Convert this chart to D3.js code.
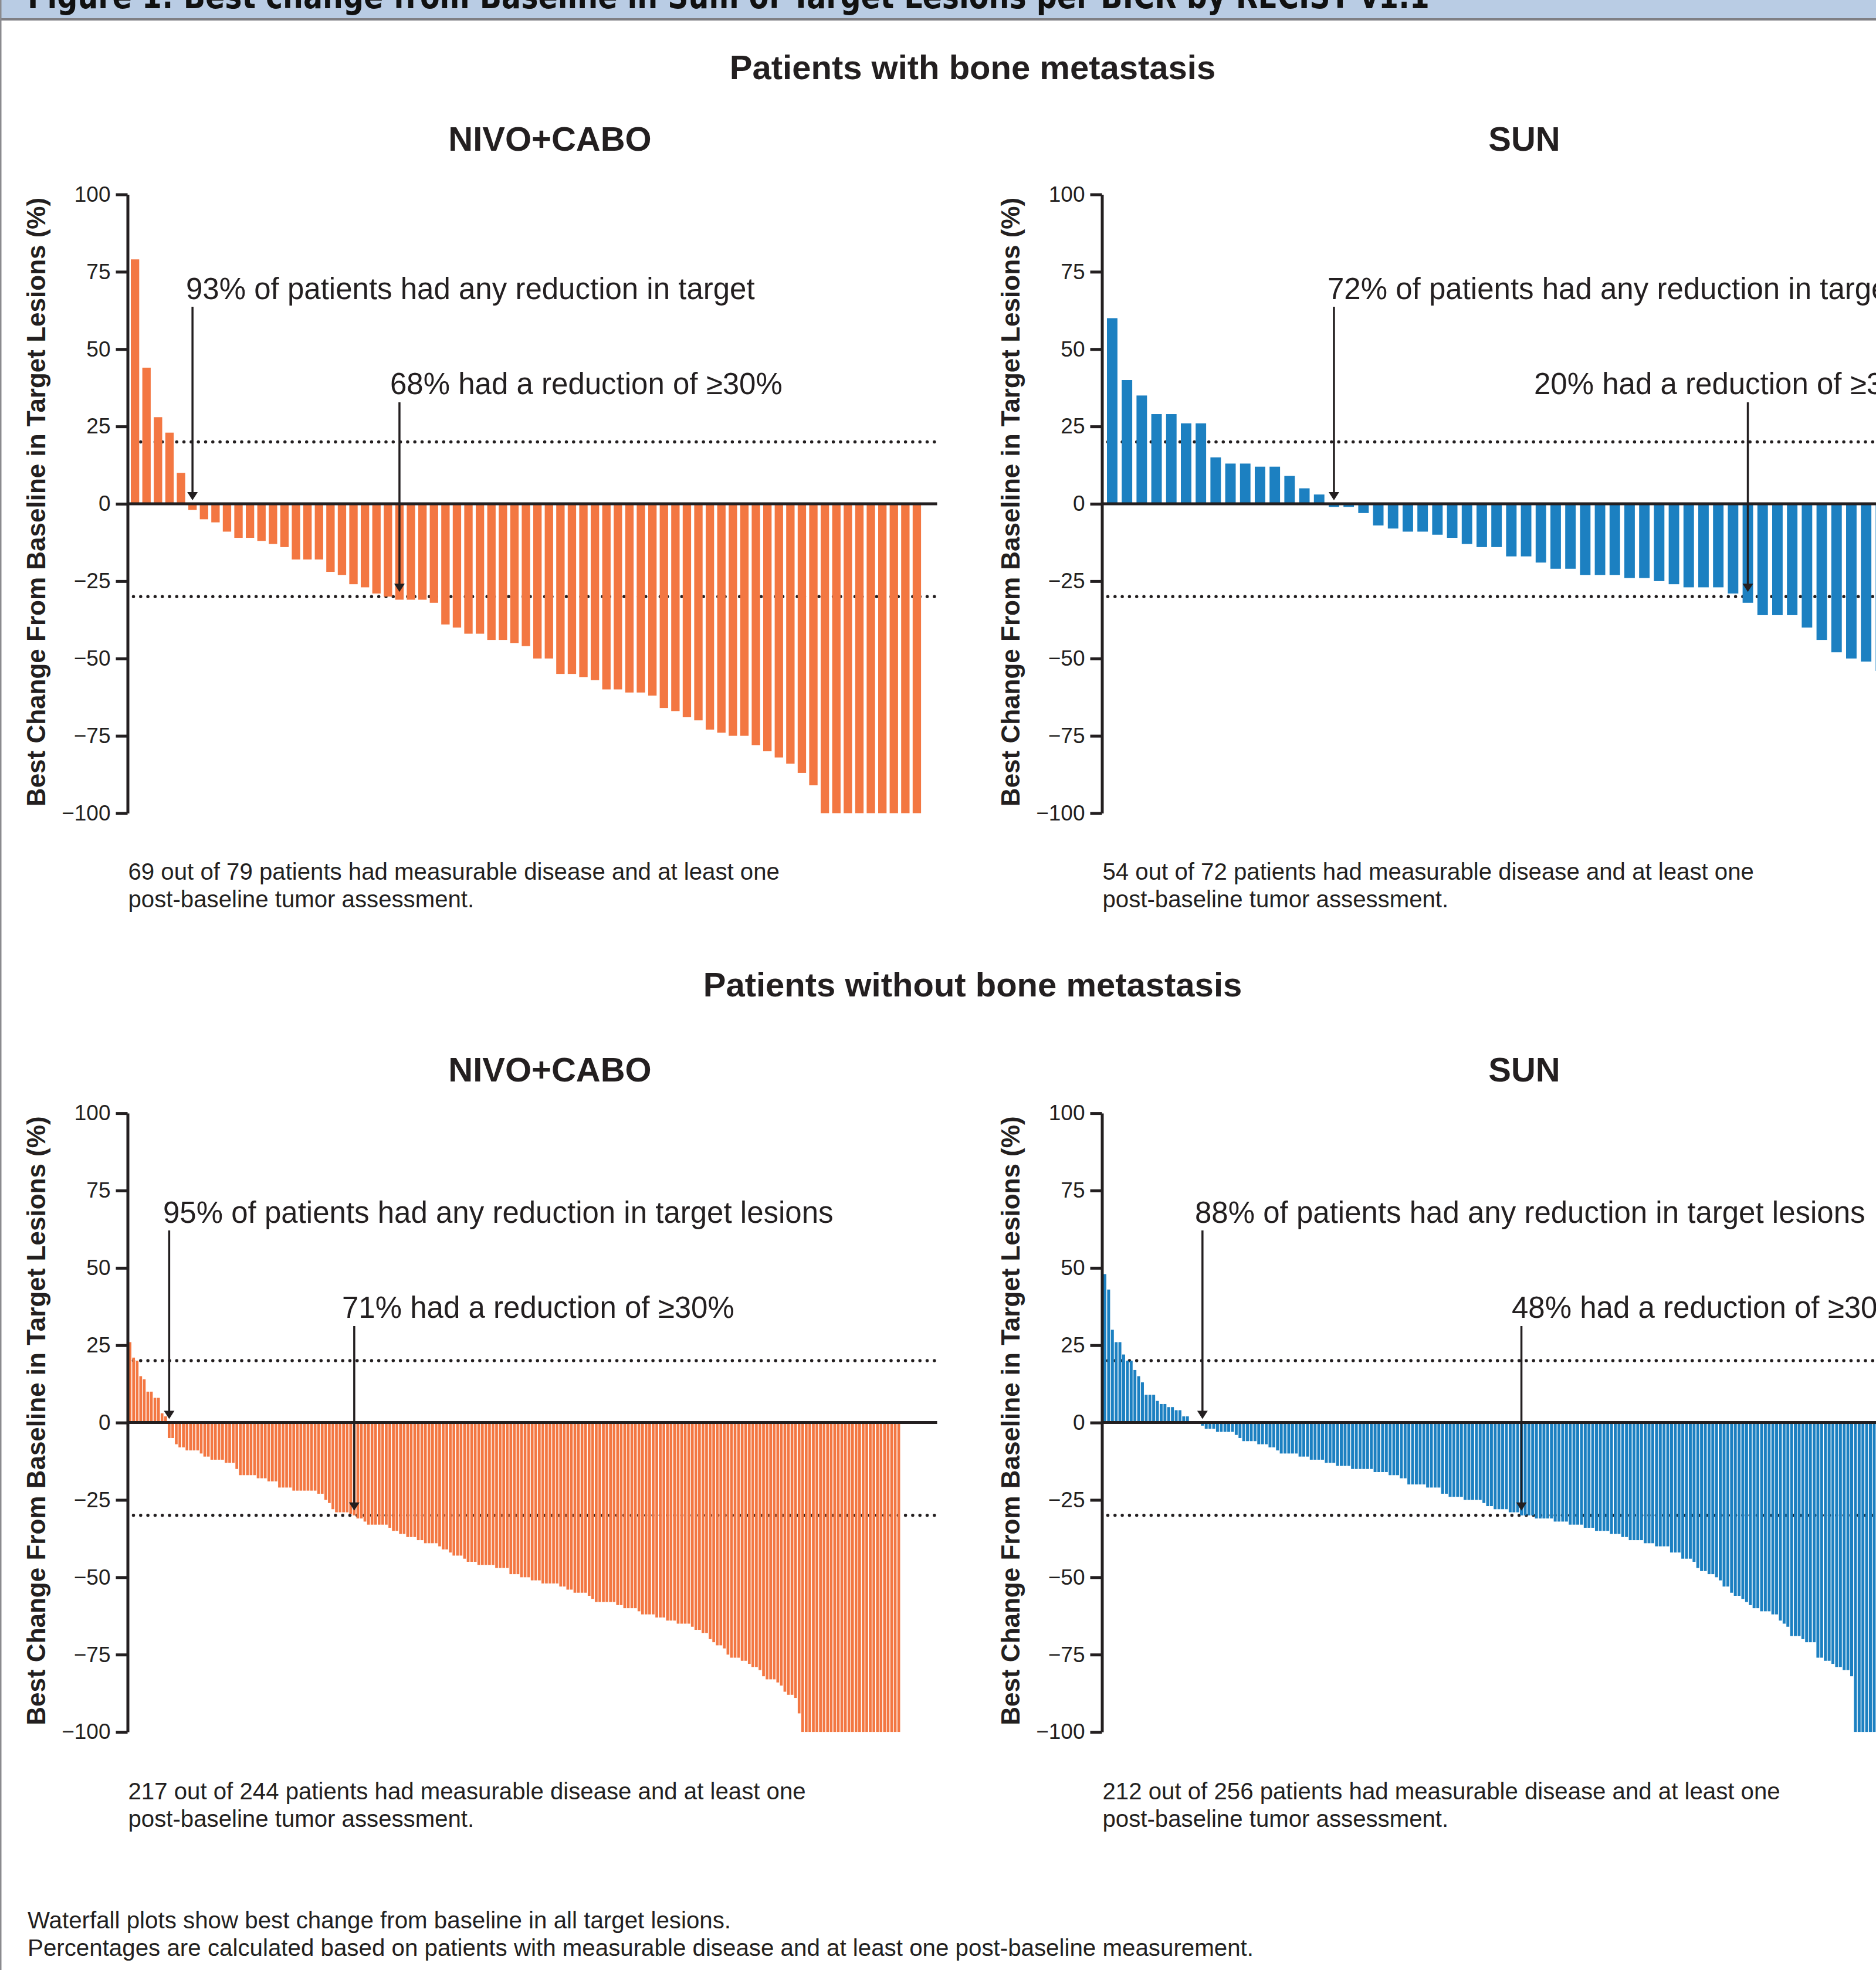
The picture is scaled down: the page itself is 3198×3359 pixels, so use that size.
<!DOCTYPE html>
<html>
<head>
<meta charset="utf-8">
<script src="https://cdn.jsdelivr.net/npm/d3@7"></script>
<style>
  html, body { margin: 0; padding: 0; background: #fff; overflow: hidden; }
  svg { display: block; }
</style>
</head>
<body>
<svg id="chart" width="3198" height="3359"></svg>
<script>
// best % change per patient, sorted high to low
const nivoBone = [79, 44, 28, 23, 10, -2, -5, -6, -9, -11, -11, -12, -13, -14, -18, -18, -18, -22, -23, -26,
    -27, -29, -30, -31, -31, -31, -32, -39, -40, -42, -42, -44, -44, -45, -46, -50, -50, -55, -55, -56,
    -57, -60, -60, -61, -61, -62, -66, -67, -69, -70, -73, -74, -75, -75, -78, -80, -82, -84, -87, -91,
    -100, -100, -100, -100, -100, -100, -100, -100, -100]

const sunBone = [60, 40, 35, 29, 29, 26, 26, 15, 13, 13, 12, 12, 9, 5, 3, -1, -1, -3, -7, -8,
    -9, -9, -10, -11, -13, -14, -14, -17, -17, -19, -21, -21, -23, -23, -23, -24, -24, -25, -26, -27,
    -27, -27, -29, -32, -36, -36, -36, -40, -44, -48, -50, -51, -54, -58]

const nivoNoBone = [26, 21, 20, 15, 14, 10, 10, 8, 8, 3, 2,
    -5, -5, -7, -8, -8, -9, -9, -9, -9, -10,
    -11, -11, -12, -12, -12, -12, -13, -13, -13, -15,
    -17, -17, -17, -17, -17, -18, -18, -18, -19, -19,
    -19, -21, -21, -21, -21, -22, -22, -22, -22, -22,
    -22, -22, -23, -23, -25, -26, -28, -29, -29, -29,
    -29, -29.5, -30, -31, -31, -32, -33, -33, -33, -33,
    -33, -33, -34, -35, -35, -36, -36, -37, -37, -37,
    -38, -38, -39, -39, -39, -39, -40, -41, -41, -42,
    -43, -43, -43, -44, -45, -45, -45, -46, -46, -46,
    -46, -46, -47, -47, -47, -47, -49, -49, -49, -50,
    -50, -50, -51, -51, -51, -52, -52, -52, -52, -52,
    -53, -53, -54, -54, -55, -55, -55, -55, -56, -57,
    -58, -58, -58, -58, -58, -58, -59, -59, -60, -60,
    -60, -60, -61, -62, -62, -62, -62, -63, -63, -63,
    -64, -64, -64, -65, -65, -65, -65, -66, -67, -67,
    -68, -68, -70, -71, -72, -72, -73, -75, -76, -76,
    -76, -77, -77, -78, -79, -79, -80, -82, -83, -83,
    -83, -84, -85, -87, -88, -88, -89, -94, -100, -100,
    -100, -100, -100, -100, -100, -100, -100, -100, -100, -100,
    -100, -100, -100, -100, -100, -100, -100, -100, -100, -100,
    -100, -100, -100, -100, -100, -100]

const sunNoBone = [48, 43, 30, 26, 26, 22, 20, 20, 17, 15, 13,
    9, 9, 9, 7, 6, 6, 5, 5, 4, 4,
    2, 2, 0, 0, 0, -1, -2, -2, -2, -3,
    -3, -3, -3, -3, -4, -5, -6, -6, -6, -6,
    -7, -7, -7, -8, -8, -9, -10, -10, -10, -10,
    -10, -11, -11, -11, -12, -12, -12, -12, -13, -13,
    -13, -14, -14, -14, -14, -15, -15, -15, -15, -15,
    -15, -16, -16, -16, -16, -17, -17, -17, -18, -18,
    -20, -20, -20, -20, -20, -21, -21, -21, -21, -23,
    -23, -24, -24, -24, -24, -25, -25, -25, -25, -25,
    -26, -27, -27, -28, -28, -28, -28, -29, -29, -29,
    -30, -30, -30, -30, -31, -31, -31, -31, -31, -32,
    -32, -32, -32, -33, -33, -33, -33, -34, -34, -34,
    -35, -35, -35, -35, -36, -36, -36, -37, -37, -38,
    -38, -38, -38, -39, -39, -39, -40, -40, -40, -40,
    -42, -42, -42, -44, -44, -44, -45, -47, -48, -48,
    -49, -49, -50, -51, -53, -53, -55, -56, -56, -57,
    -58, -59, -60, -60, -61, -61, -61, -62, -62, -64,
    -65, -66, -69, -69, -69, -70, -71, -71, -71, -76,
    -76, -77, -77, -78, -79, -79, -80, -80, -82, -100,
    -100, -100, -100, -100, -100, -100, -100, -100, -100, -100,
    -100]

const yTicks = [100, 75, 50, 25, 0, -25, -50, -75, -100]
const refLines = [20, -30]

const figureTitle = "Figure 1: Best change from Baseline in Sum of Target Lesions per BICR by RECIST v1.1"
const sectionTitles = ["Patients with bone metastasis", "Patients without bone metastasis"]
const armNames = ["NIVO+CABO", "SUN", "NIVO+CABO", "SUN"]
const anyReduction = [
    "93% of patients had any reduction in target",
    "72% of patients had any reduction in target",
    "95% of patients had any reduction in target lesions",
    "88% of patients had any reduction in target lesions"]
const deepReduction = [
    "68% had a reduction of \u226530%",
    "20% had a reduction of \u226530%",
    "71% had a reduction of \u226530%",
    "48% had a reduction of \u226530%"]
// bar each arrow points at: [first reduction, first >=30% reduction]
const arrowBars = [[5, 23], [15, 43], [11, 63], [26, 111]]
const patientNotes = [
    ["69 out of 79 patients had measurable disease and at least one", "post-baseline tumor assessment."],
    ["54 out of 72 patients had measurable disease and at least one", "post-baseline tumor assessment."],
    ["217 out of 244 patients had measurable disease and at least one", "post-baseline tumor assessment."],
    ["212 out of 256 patients had measurable disease and at least one", "post-baseline tumor assessment."]]
const footNotes = [
    "Waterfall plots show best change from baseline in all target lesions.",
    "Percentages are calculated based on patients with measurable disease and at least one post-baseline measurement."]

const ink = "#231f20"
const orange = "#f37742"
const blue = "#1c80c1"
const font = "'Liberation Sans', Arial, Helvetica, sans-serif"

// layout, in page pixels
const unit = 5.275
const rows = [
    { zeroY: 859, sectionY: 135, titleY: 257, textY: [510, 672], arrowTop: [523, 686], noteY: 1500 },
    { zeroY: 2425.6, sectionY: 1699, titleY: 1844, textY: [2085, 2247], arrowTop: [2098, 2261], noteY: 3068 }
]
const panels = [
    { values: nivoBone, color: orange, row: 0, axisX: 217.5, barStart: 223, step: 19.6, pad: 0.27, textX: [317, 665] },
    { values: sunBone, color: blue, row: 0, axisX: 1878.5, barStart: 1887, step: 25.2, pad: 0.29, textX: [2263, 2615] },
    { values: nivoNoBone, color: orange, row: 1, axisX: 217.5, barStart: 219.3, step: 6.067, pad: 0.23, textX: [278, 583] },
    { values: sunNoBone, color: blue, row: 1, axisX: 1878.5, barStart: 1881, step: 6.397, pad: 0.22, textX: [2037, 2577] }
]
const plotWidth = 1380

const svg = d3.select("#chart")
    .style("font-family", font)

// frame: header strip and left border
svg.append("rect")
    .attr("x", 0).attr("y", 0)
    .attr("width", 3198).attr("height", 32)
    .attr("fill", "#b9cce4")
svg.append("rect")
    .attr("x", 0).attr("y", 31)
    .attr("width", 3198).attr("height", 4)
    .attr("fill", "#7f7f84")
svg.append("text")
    .attr("x", 47).attr("y", 14)
    .attr("textLength", 2390)
    .attr("lengthAdjust", "spacingAndGlyphs")
    .style("font-family", "'Liberation Sans Narrow', 'DejaVu Sans Condensed', Arial, sans-serif")
    .style("font-weight", "bold")
    .style("font-size", "58px")
    .attr("fill", "#111")
    .text(figureTitle)
svg.append("rect")
    .attr("x", 0).attr("y", 0)
    .attr("width", 2.5).attr("height", 3359)
    .attr("fill", "#8a8a8e")

rows.forEach((r, i) => {
    svg.append("text")
        .attr("x", 1658).attr("y", r.sectionY)
        .attr("text-anchor", "middle")
        .style("font-weight", "bold")
        .style("font-size", "58px")
        .attr("fill", ink)
        .text(sectionTitles[i])
})

panels.forEach(drawPanel)

function drawPanel(p, i) {
    const r = rows[p.row]
    const n = p.values.length
    const plotEnd = p.axisX + plotWidth

    const y = d3.scaleLinear()
        .domain([-100, 100])
        .range([r.zeroY + 100 * unit, r.zeroY - 100 * unit])

    const x = d3.scaleBand()
        .domain(d3.range(n))
        .range([p.barStart, p.barStart + p.step * (n - p.pad)])
        .paddingInner(p.pad)
        .paddingOuter(0)

    const g = svg.append("g")
        .attr("class", "panel-" + i)

    // panel title
    g.append("text")
        .attr("x", p.axisX + 720).attr("y", r.titleY)
        .attr("text-anchor", "middle")
        .style("font-weight", "bold")
        .style("font-size", "58px")
        .attr("fill", ink)
        .text(armNames[i])

    // dotted reference lines sit behind the bars
    g.append("g")
        .selectAll("line")
        .data(refLines)
        .join("line")
        .attr("x1", p.axisX + 10)
        .attr("x2", plotEnd - 4)
        .attr("y1", d => y(d))
        .attr("y2", d => y(d))
        .attr("stroke", ink)
        .attr("stroke-width", 5.5)
        .attr("stroke-linecap", "round")
        .attr("stroke-dasharray", "0 12.3")

    g.append("g")
        .selectAll("rect")
        .data(p.values)
        .join("rect")
        .attr("x", (d, k) => x(k))
        .attr("width", x.bandwidth())
        .attr("y", d => y(Math.max(0, d)))
        .attr("height", d => Math.abs(y(d) - y(0)))
        .attr("fill", p.color)

    g.append("line")
        .attr("x1", p.axisX).attr("x2", plotEnd)
        .attr("y1", y(0)).attr("y2", y(0))
        .attr("stroke", ink)
        .attr("stroke-width", 5)

    const axis = g.append("g")
        .attr("transform", `translate(${p.axisX},0)`)
        .call(d3.axisLeft(y)
            .tickValues(yTicks)
            .tickSize(20)
            .tickSizeOuter(0)
            .tickPadding(9)
            .tickFormat(d => d < 0 ? "\u2212" + Math.abs(d) : d))
    axis.select(".domain")
        .attr("stroke", ink)
        .attr("stroke-width", 5)
    axis.selectAll(".tick line")
        .attr("stroke", ink)
        .attr("stroke-width", 5)
    axis.selectAll(".tick text")
        .attr("fill", ink)
        .style("font-family", font)
        .style("font-size", "37px")

    g.append("text")
        .attr("transform", `translate(${p.axisX - 141},${y(0) - 3}) rotate(-90)`)
        .attr("text-anchor", "middle")
        .style("font-weight", "bold")
        .style("font-size", "44px")
        .attr("fill", ink)
        .text("Best Change From Baseline in Target Lesions (%)")

    // annotation arrows
    const tips = [y(0) - 6, y(-30) - 8]
    const labels = [anyReduction[i], deepReduction[i]]
    arrowBars[i].forEach((bar, k) => {
        const cx = x(bar) + x.bandwidth() / 2
        g.append("text")
            .attr("x", p.textX[k]).attr("y", r.textY[k])
            .style("font-size", "51px")
            .attr("fill", ink)
            .text(labels[k])
        g.append("line")
            .attr("x1", cx).attr("x2", cx)
            .attr("y1", r.arrowTop[k]).attr("y2", tips[k] - 12)
            .attr("stroke", ink)
            .attr("stroke-width", 3.5)
        g.append("path")
            .attr("d", `M${cx - 9},${tips[k] - 14}L${cx + 9},${tips[k] - 14}L${cx},${tips[k]}Z`)
            .attr("fill", ink)
    })

    g.append("g")
        .selectAll("text")
        .data(patientNotes[i])
        .join("text")
        .attr("x", p.axisX + 1)
        .attr("y", (d, k) => r.noteY + k * 47)
        .style("font-size", "40.2px")
        .attr("fill", ink)
        .text(d => d)
}

svg.append("g")
    .selectAll("text")
    .data(footNotes)
    .join("text")
    .attr("x", 47)
    .attr("y", (d, k) => 3288 + k * 47)
    .style("font-size", "40.3px")
    .attr("fill", ink)
    .text(d => d)
</script>
</body>
</html>
